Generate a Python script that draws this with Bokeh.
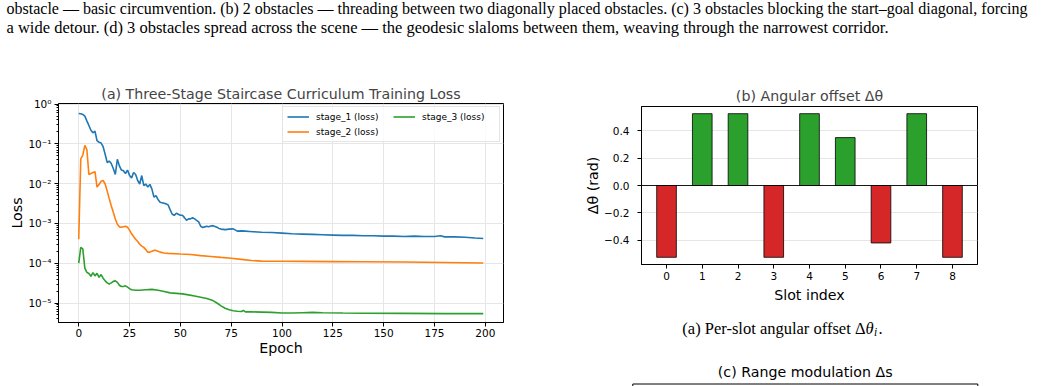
from bokeh.plotting import figure
from bokeh.layouts import column, row
from bokeh.models import Range1d, FixedTicker, Span
from bokeh.core.properties import value
from bokeh.embed import file_html
from bokeh.resources import INLINE

# ---------------- data ----------------
stage1_epoch = [0, 1, 2, 3, 4, 5, 6, 7, 8, 9, 10, 11, 12, 13, 14, 15, 16, 17, 18, 19,
                20, 21, 22, 23, 24, 25, 26, 27, 28, 29, 30, 31, 32, 33, 34, 35, 36, 37, 38, 39,
                40, 41, 42, 43, 44, 45, 46, 47, 48, 49, 50, 51, 52, 53, 54, 55, 56, 57, 58, 59,
                60, 61, 62, 63, 64, 65, 66, 67, 68, 69, 70, 72, 74, 76, 78, 80, 82, 84, 86, 88,
                90, 95, 100, 105, 110, 115, 120, 125, 130, 135, 140, 145, 150, 155, 160, 165,
                170, 175, 178, 180, 185, 190, 195, 199]
stage1_loss = [0.58, 0.57, 0.55, 0.50, 0.38, 0.29, 0.22, 0.19, 0.21, 0.12, 0.11, 0.105, 0.085,
               0.055, 0.034, 0.037, 0.032, 0.024, 0.017, 0.041,
               0.028, 0.022, 0.021, 0.018, 0.022, 0.016, 0.014, 0.019, 0.017, 0.012,
               0.0098, 0.016, 0.0089, 0.0098, 0.0082, 0.0096, 0.0073, 0.0046, 0.005, 0.004,
               0.0034, 0.0033, 0.0032, 0.0031, 0.0029, 0.0022, 0.0017, 0.0016, 0.0018, 0.0017,
               0.0016, 0.0016, 0.0014, 0.0012, 0.0013, 0.0013, 0.0014, 0.0013, 0.0012, 0.0011,
               0.00085, 0.00079, 0.00082, 0.00085, 0.00083, 0.00086, 0.00088, 0.00084, 0.0008, 0.00075,
               0.00072, 0.00070, 0.00072, 0.00073, 0.00064, 0.00065, 0.00064, 0.00063, 0.00062, 0.00061,
               0.0006, 0.00059, 0.00057, 0.00055, 0.00054, 0.00053, 0.00052, 0.00051, 0.0005, 0.0005,
               0.00049, 0.00049, 0.00048, 0.00048, 0.00047, 0.00048,
               0.00047, 0.00047, 0.00049, 0.00046, 0.00046, 0.00045, 0.00043, 0.00042]

stage2_epoch = [0, 1, 2, 3, 4, 5, 6, 7, 8, 9, 10, 11, 12, 13, 14, 15, 16, 17, 18, 19,
                20, 21, 22, 23, 24, 25, 26, 27, 28, 29, 30, 31, 32, 33, 34, 35, 36, 37, 38, 39,
                40, 42, 44, 50, 55, 60, 65, 70, 75, 80, 85, 90, 100, 110, 125, 140, 160, 180, 199]
stage2_loss = [0.0004, 0.042, 0.052, 0.092, 0.072, 0.017, 0.018, 0.019, 0.020, 0.0082,
               0.0095, 0.0115, 0.012, 0.0098, 0.0065, 0.0042, 0.0028, 0.0019, 0.0013, 0.00095,
               0.00082, 0.0008, 0.00083, 0.00085, 0.0008, 0.00068, 0.00055, 0.00047, 0.0004, 0.00035,
               0.0003, 0.00027, 0.00025, 0.00022, 0.00019, 0.00019, 0.0002, 0.00021, 0.00021, 0.0002,
               0.00019, 0.00018, 0.000177, 0.00017, 0.000165, 0.000155, 0.000148, 0.00014, 0.000133,
               0.000125, 0.000117, 0.000113, 0.000112, 0.000111, 0.00011, 0.000109, 0.000107,
               0.000104, 0.000101]

stage3_epoch = [0, 1, 2, 3, 4, 5, 6, 7, 8, 9, 10, 11, 12, 13, 14, 15, 16, 17, 18, 19,
                20, 21, 22, 23, 24, 25, 26, 28, 30, 33, 36, 39, 42, 45, 48, 51, 54, 57, 60, 63,
                66, 68, 70, 72, 74, 76, 78, 80, 81, 82, 85, 90, 95, 100, 105, 110, 115, 120,
                130, 140, 160, 180, 199]
stage3_loss = [1.0e-4, 2.5e-4, 2.3e-4, 7.5e-5, 5.9e-5, 5.5e-5, 4.7e-5, 5.8e-5, 4.8e-5, 5.6e-5,
               4.4e-5, 5.2e-5, 4.2e-5, 3.6e-5, 3.2e-5, 3.0e-5, 3.2e-5, 3.5e-5, 3.6e-5, 3.3e-5,
               2.8e-5, 2.6e-5, 2.6e-5, 2.7e-5, 2.5e-5, 2.3e-5, 2.15e-5, 2.1e-5, 2.1e-5, 2.15e-5,
               2.2e-5, 2.1e-5, 1.95e-5, 1.8e-5, 1.75e-5, 1.7e-5, 1.6e-5, 1.5e-5, 1.4e-5, 1.3e-5,
               1.15e-5, 1.0e-5, 8.5e-6, 7.4e-6, 6.8e-6, 6.4e-6, 6.2e-6, 6.1e-6, 6.5e-6, 6.0e-6,
               6.0e-6, 5.9e-6, 5.8e-6, 5.6e-6, 5.6e-6, 5.7e-6, 5.8e-6, 5.7e-6,
               5.6e-6, 5.55e-6, 5.5e-6, 5.4e-6, 5.4e-6]

epoch_ticks = [0, 25, 50, 75, 100, 125, 150, 175, 200]
loss_ticks = [1e-5, 1e-4, 1e-3, 1e-2, 1e-1, 1e0]
loss_tick_labels = ["10\u207b\u2075", "10\u207b\u2074", "10\u207b\u00b3", "10\u207b\u00b2", "10\u207b\u00b9", "10\u2070"]

slots = [0, 1, 2, 3, 4, 5, 6, 7, 8]
delta_theta = [-0.5236, 0.5236, 0.5236, -0.5236, 0.5236, 0.3491, -0.4189, 0.5236, -0.5236]
theta_ticks = [-0.4, -0.2, 0.0, 0.2, 0.4]
theta_tick_labels = ["\u22120.4", "\u22120.2", "0.0", "0.2", "0.4"]

caption_lines = [
    "obstacle \u2014 basic circumvention. (b) 2 obstacles \u2014 threading between two diagonally placed obstacles. (c) 3 obstacles blocking the start\u2013goal diagonal, forcing",
    "a wide detour. (d) 3 obstacles spread across the scene \u2014 the geodesic slaloms between them, weaving through the narrowest corridor.",
]

SANS = "DejaVu Sans"
SERIF = "Liberation Serif"


def text_canvas(w, h):
    c = figure(width=w, height=h, x_range=Range1d(0, w), y_range=Range1d(h, 0),
               output_backend="svg", toolbar_location=None,
               min_border=0, min_border_left=0, min_border_right=0,
               min_border_top=0, min_border_bottom=0)
    c.axis.visible = False
    c.grid.visible = False
    c.outline_line_color = None
    return c


def style_axes(p):
    for ax in p.axis:
        ax.axis_line_color = "black"
        ax.major_tick_line_color = "black"
        ax.major_tick_in = 0
        ax.major_tick_out = 4
        ax.minor_tick_in = 0
        ax.minor_tick_out = 2
        ax.major_label_text_font = SANS
        ax.major_label_text_font_size = "10.5px"
        ax.major_label_text_color = "black"
        ax.axis_label_text_font = SANS
        ax.axis_label_text_font_size = "14.2px"
        ax.axis_label_text_font_style = "normal"
        ax.axis_label_text_color = "black"
        ax.major_label_standoff = 3
        ax.axis_label_standoff = 4
    p.outline_line_color = "black"
    p.outline_line_width = 1
    p.title.text_font = SANS
    p.title.text_font_size = "14.2px"
    p.title.text_font_style = "normal"
    p.title.align = "center"
    p.title.standoff = 4


# ---------------- caption above ----------------
top = text_canvas(1041, 48)
top.text(x=[6], y=[8], text=caption_lines[:1], text_font=value(SERIF),
         text_font_size=value("16px"), text_baseline="alphabetic", text_align="left",
         text_color="black")
top.text(x=[6], y=[26.5], text=caption_lines[1:], text_font=value(SERIF),
         text_font_size=value("16.5px"), text_baseline="alphabetic", text_align="left",
         text_color="black")

# ---------------- (a) training loss ----------------
lossfig = figure(width=560, height=338, y_axis_type="log",
                 x_range=Range1d(-9.95, 208.95), y_range=Range1d(10 ** -5.49, 10 ** 0.015),
                 output_backend="svg", toolbar_location=None,
                 min_border_left=58, min_border_right=57, min_border_top=55, min_border_bottom=64,
                 title="(a) Three-Stage Staircase Curriculum Training Loss")
style_axes(lossfig)
lossfig.xaxis.ticker = FixedTicker(ticks=epoch_ticks)
lossfig.xaxis.minor_tick_line_color = None
lossfig.xaxis.major_label_standoff = 2
lossfig.xaxis.axis_label_standoff = 0
lossfig.yaxis.axis_label_standoff = 0
minor = [m * 10.0 ** e for e in range(-6, 0) for m in range(2, 10)]
lossfig.yaxis.ticker = FixedTicker(ticks=loss_ticks, minor_ticks=minor)
lossfig.yaxis.major_label_overrides = dict(zip(loss_ticks, loss_tick_labels))
lossfig.yaxis.minor_tick_line_color = "black"
lossfig.xaxis.axis_label = "Epoch"
lossfig.yaxis.axis_label = "Loss"
lossfig.grid.grid_line_color = "#e6e6e6"
lossfig.grid.grid_line_width = 1
lossfig.ygrid.ticker = FixedTicker(ticks=loss_ticks)

lossfig.line(stage1_epoch, stage1_loss, line_color="#1f77b4", line_width=1.6, legend_label="stage_1 (loss)")
lossfig.line(stage2_epoch, stage2_loss, line_color="#ff7f0e", line_width=1.6, legend_label="stage_2 (loss)")
lossfig.line(stage3_epoch, stage3_loss, line_color="#2ca02c", line_width=1.6, legend_label="stage_3 (loss)")

leg = lossfig.legend[0]
leg.location = "top_right"
leg.ncols = 2
leg.label_text_font = SANS
leg.label_text_font_size = "9px"
leg.label_text_color = "black"
leg.glyph_width = 22
leg.glyph_height = 11
leg.label_height = 11
leg.label_width = 73
leg.label_standoff = 7
leg.spacing = 4
leg.padding = 4
leg.margin = 3
leg.border_line_color = "#cccccc"
leg.background_fill_alpha = 0.8

# ---------------- (b) angular offset ----------------
bar_colors = ["#2ca02c" if v > 0 else "#d62728" for v in delta_theta]
barfig = figure(width=481, height=257, x_range=Range1d(-0.7, 8.7), y_range=Range1d(-0.576, 0.576),
                output_backend="svg", toolbar_location=None,
                min_border_left=81, min_border_right=64, min_border_top=58, min_border_bottom=37,
                title="(b) Angular offset \u0394\u03b8")
style_axes(barfig)
barfig.title.standoff = 5
barfig.xaxis.ticker = FixedTicker(ticks=slots)
barfig.xaxis.minor_tick_line_color = None
barfig.yaxis.ticker = FixedTicker(ticks=theta_ticks)
barfig.yaxis.major_label_overrides = dict(zip(theta_ticks, theta_tick_labels))
barfig.yaxis.minor_tick_line_color = None
barfig.yaxis.major_label_standoff = 8
barfig.yaxis.axis_label_standoff = 0
barfig.xgrid.visible = False
barfig.ygrid.grid_line_color = "#e6e6e6"
barfig.xaxis.axis_label = "Slot index"
barfig.yaxis.axis_label = "\u0394\u03b8 (rad)"
barfig.vbar(x=slots, top=delta_theta, bottom=0, width=0.55, fill_color=bar_colors,
            line_color="black", line_width=0.8)
barfig.add_layout(Span(location=0, dimension="width", line_color="black", line_width=0.9))

# ---------------- captions below (b) ----------------
below = text_canvas(481, 81)
serif_main = dict(text_font=value(SERIF), text_font_size=value("16.5px"),
                  text_baseline="alphabetic", text_color="black")
below.text(x=[305], y=[23], text=["(a) Per-slot angular offset \u0394"], text_align="right", **serif_main)
below.text(x=[305], y=[23], text=["\u03b8"], text_font_style="italic", text_align="left", **serif_main)
below.text(x=[313.5], y=[26.5], text=["i"], text_font=value(SERIF), text_font_style="italic",
           text_font_size=value("11.5px"), text_baseline="alphabetic", text_align="left", text_color="black")
below.text(x=[318], y=[23], text=["."], text_align="left", **serif_main)
below.text(x=[244.7], y=[66], text=["(c) Range modulation \u0394s"], text_font=value(SANS),
           text_font_size=value("14.2px"), text_baseline="alphabetic", text_align="center", text_color="black")
# top edge of the next panel's frame
below.quad(left=[72.3], right=[417.3], top=[78.5], bottom=[95], fill_color=None,
           line_color="black", line_width=1)

layout = column(top, row(lossfig, column(barfig, row(below))))
open("out.html", "w").write(file_html(layout, INLINE))
